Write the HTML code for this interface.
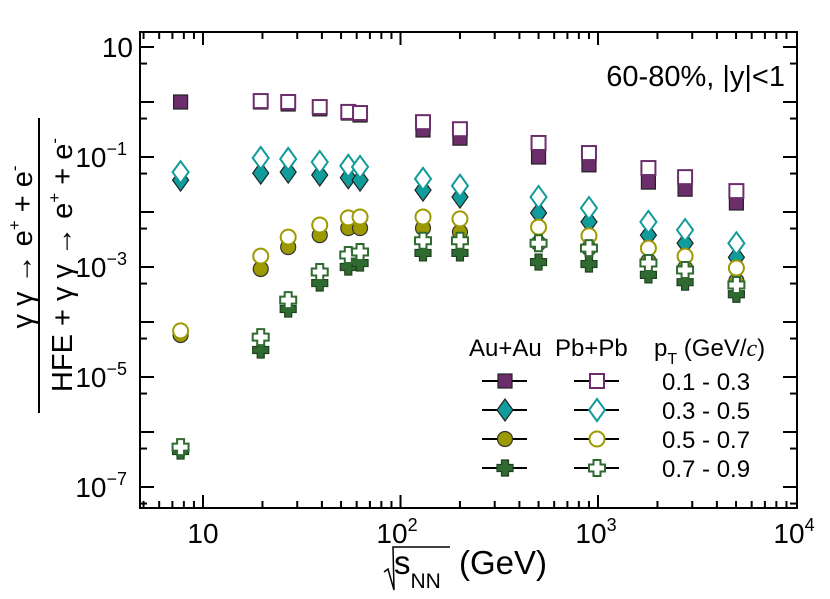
<!DOCTYPE html>
<html><head><meta charset="utf-8"><style>
html,body{margin:0;padding:0;background:#fff;}
svg{display:block;font-family:"Liberation Sans",sans-serif;}
</style></head><body>
<svg id="chart" width="830" height="599" viewBox="0 0 830 599" xmlns="http://www.w3.org/2000/svg">
<rect x="0" y="0" width="830" height="599" fill="#fff"/>
<g id="ticks"></g>
<g id="marks"></g>
<rect x="140" y="32" width="657" height="476" fill="none" stroke="#000" stroke-width="2"/>
<g font-size="28" text-anchor="end">
<text x="133" y="57">10</text>
<text x="127" y="167">10<tspan font-size="18" dy="-12">−1</tspan></text>
<text x="127" y="277">10<tspan font-size="18" dy="-12">−3</tspan></text>
<text x="127" y="387">10<tspan font-size="18" dy="-12">−5</tspan></text>
<text x="127" y="497">10<tspan font-size="18" dy="-12">−7</tspan></text>
</g>
<g font-size="28" text-anchor="middle">
<text x="203" y="543">10</text>
<text x="397" y="543">10<tspan font-size="18" dy="-12">2</tspan></text>
<text x="596" y="543">10<tspan font-size="18" dy="-12">3</tspan></text>
<text x="794" y="543">10<tspan font-size="18" dy="-12">4</tspan></text>
</g>
<g font-size="33">
<path d="M384,572 L388,569 L394,590 L393,547 L450,547" fill="none" stroke="#000" stroke-width="1.5"/>
<text x="394" y="574">s<tspan font-size="21" dy="14">NN</tspan><tspan dy="-14" x="459">(GeV)</tspan></text>
</g>
<g>
<text transform="translate(32,247) rotate(-90)" text-anchor="middle" font-size="29">γ γ → e<tspan font-size="17" dy="-12">+</tspan><tspan dy="12"> + e</tspan><tspan font-size="17" dy="-12">-</tspan></text>
<line x1="39" y1="118" x2="39" y2="413" stroke="#000" stroke-width="2"/>
<text transform="translate(72,265) rotate(-90)" text-anchor="middle" font-size="29">HFE + γ γ → e<tspan font-size="17" dy="-12">+</tspan><tspan dy="12"> + e</tspan><tspan font-size="17" dy="-12">-</tspan></text>
</g>
<text x="785" y="86" text-anchor="end" font-size="29">60-80%, |y|&lt;1</text>
<g id="legend" font-size="24">
<text x="469" y="356">Au+Au</text>
<text x="555" y="356">Pb+Pb</text>
<text x="654" y="356">p<tspan font-size="16" dy="8">T</tspan><tspan dy="-8"> (GeV/</tspan><tspan font-family="Liberation Serif" font-style="italic">c</tspan>)</text>
</g>
</svg>
<script>
const energies=[7.7,19.6,27,39,54.4,62.4,130,200,500,900,1800,2760,5020];
const sqFilled=[1.0,1.0,0.92,0.75,0.63,0.58,0.31,0.22,0.10,0.072,0.035,0.026,0.0146];
const sqOpen=[null,1.04,1.0,0.81,0.66,0.63,0.43,0.32,0.18,0.118,0.063,0.043,0.024];
const diFilled=[0.038,0.051,0.053,0.047,0.042,0.038,0.025,0.0187,0.0096,0.0066,0.0038,0.0027,0.0015];
const diOpen=[0.053,0.096,0.092,0.081,0.069,0.066,0.040,0.030,0.0187,0.0118,0.0066,0.0047,0.0027];
const ciFilled=[5.8e-5,9.2e-4,2.3e-3,3.8e-3,5.1e-3,5.1e-3,5.1e-3,4.3e-3,2.7e-3,2.2e-3,1.29e-3,9.6e-4,5.6e-4];
const ciOpen=[6.9e-5,1.58e-3,3.5e-3,5.8e-3,7.8e-3,8.1e-3,8.1e-3,7.5e-3,5.3e-3,3.7e-3,2.2e-3,1.58e-3,9.6e-4];
const crFilled=[4.5e-7,3.1e-5,1.72e-4,5.1e-4,1.0e-3,1.18e-3,1.8e-3,1.8e-3,1.23e-3,1.13e-3,7.2e-4,5.3e-4,3.2e-4];
const crOpen=[5.3e-7,5.3e-5,2.5e-4,8.1e-4,1.65e-3,1.87e-3,3.0e-3,3.0e-3,2.7e-3,2.2e-3,1.18e-3,8.8e-4,4.7e-4];
const ptLabels=["0.1 - 0.3","0.3 - 0.5","0.5 - 0.7","0.7 - 0.9"];
const NS="http://www.w3.org/2000/svg";
function xs(v){return 203+(Math.log10(v)-1)*197.5;}
function ys(v){return 47+(1-Math.log10(v))*55;}
function mk(tag,attrs,parent){const e=document.createElementNS(NS,tag);for(const k in attrs)e.setAttribute(k,attrs[k]);parent.appendChild(e);return e;}
const ticks=document.getElementById('ticks');
for(let d=0;d<4;d++){for(let m=1;m<10;m++){const v=m*Math.pow(10,d);const x=xs(v);if(x<141||x>796)continue;const L=m===1?13:7;
const t=mk('line',{x1:x,x2:x,y1:508,y2:508-L,stroke:'#000','stroke-width':2},ticks);


const t2=mk('line',{x1:x,x2:x,y1:32,y2:32+L,stroke:'#000','stroke-width':2},ticks);

}}
for(let p=-8;p<=1;p++){[[1,14],[5,7]].forEach(([m,L])=>{const y=ys(m*Math.pow(10,p));if(y<33||y>507)return;
const t=mk('line',{x1:140,x2:140+L,y1:y,y2:y,stroke:'#000','stroke-width':2},ticks);


const t2=mk('line',{x1:797,x2:797-L,y1:y,y2:y,stroke:'#000','stroke-width':2},ticks);

});}
const colors=['#6b2e6b','#0f9c9a','#9c9a00','#2f6a30'];
function marker(shape,filled,col,x,y,parent){
const fill=filled?col:'#fff';const sw=filled?1.2:2;const st=filled?'#222':col;let e;
if(shape===0)e=mk('rect',{x:x-7,y:y-7,width:14,height:14,fill:fill,stroke:st,'stroke-width':sw},parent);
else if(shape===1)e=mk('polygon',{points:`${x},${y-11} ${x+8},${y} ${x},${y+11} ${x-8},${y}`,fill:fill,stroke:st,'stroke-width':sw},parent);
else if(shape===2)e=mk('circle',{cx:x,cy:y,r:7.5,fill:fill,stroke:filled?'#333':col,'stroke-width':sw},parent);
else{const a=3.5,b=8;e=mk('polygon',{points:`${x-a},${y-b} ${x+a},${y-b} ${x+a},${y-a} ${x+b},${y-a} ${x+b},${y+a} ${x+a},${y+a} ${x+a},${y+b} ${x-a},${y+b} ${x-a},${y+a} ${x-b},${y+a} ${x-b},${y-a} ${x-a},${y-a}`,fill:fill,stroke:filled?'#1e401e':col,'stroke-width':sw},parent);}
return e;}
const marks=document.getElementById('marks');
const series=[[sqFilled,0,true],[sqOpen,0,false],[diFilled,1,true],[diOpen,1,false],[ciFilled,2,true],[ciOpen,2,false],[crFilled,3,true],[crOpen,3,false]];
series.forEach(([arr,sh,f])=>{arr.forEach((v,i)=>{if(v==null)return;
const e=marker(sh,f,colors[sh],xs(energies[i]),ys(v),marks);

});});
const lg=document.getElementById('legend');
const rowsY=[381,410,439,468];
ptLabels.forEach((lab,i)=>{const y=rowsY[i];
[[505,true],[597,false]].forEach(([cx,f])=>{
const l=mk('line',{x1:cx-23,x2:cx+22,y1:y,y2:y,stroke:'#000','stroke-width':2},lg);


const m=marker(i,f,colors[i],cx,y,lg);

});
const t=mk('text',{x:662,y:y+9},lg);t.textContent=lab;

});
</script>
</body></html>
